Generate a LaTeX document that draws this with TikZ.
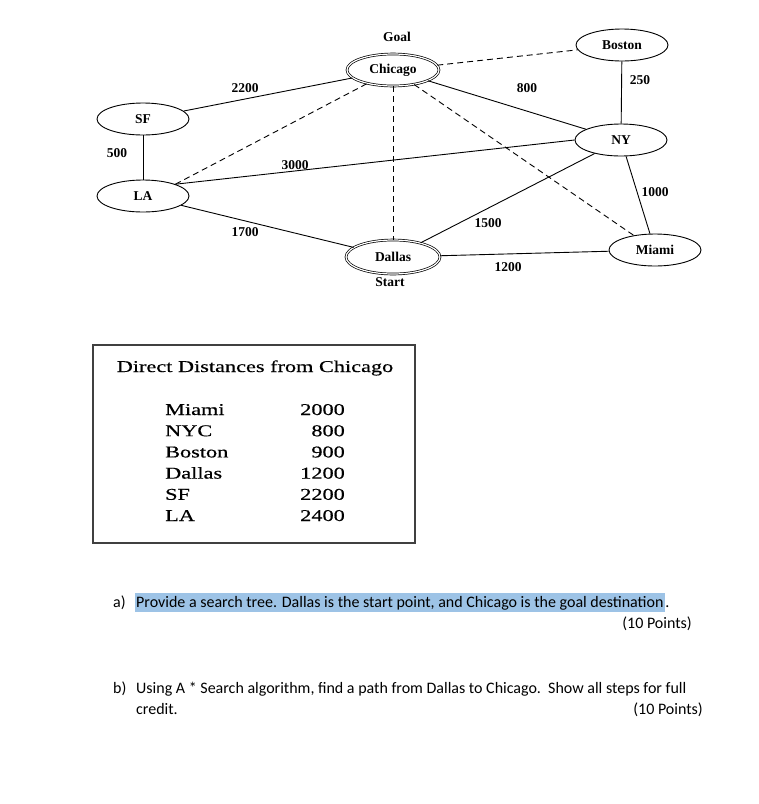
\documentclass[tikz,border=0pt]{standalone}
\usepackage{fontspec}
\setmainfont{Liberation Serif}
\newfontfamily\tabfont[FakeStretch=1.35,FakeBold=0.5]{Liberation Serif}
\newfontfamily\qfont{Carlito}
\usepackage{tikz}
\usetikzlibrary{shapes,positioning}
\definecolor{hilite}{RGB}{157,195,230}
\tikzset{
  city/.style={ellipse, draw, line width=0.9pt, minimum width=92pt, minimum height=32pt, inner sep=0pt, font=\fontsize{13.5}{15}\selectfont\bfseries},
  goalcity/.style={city, double, double distance=1.2pt, line width=0.7pt},
  road/.style={line width=0.9pt},
  guess/.style={line width=0.9pt, dash pattern=on 6pt off 4pt},
  dist/.style={font=\fontsize{13.5}{15}\selectfont\bfseries, inner sep=1pt},
  tabtxt/.style={font=\tabfont\fontsize{16.5}{19}\selectfont, inner sep=0pt},
  qtxt/.style={font=\qfont\fontsize{16}{19}\selectfont, inner sep=0pt}
}
\begin{document}
\begin{tikzpicture}[x=1pt,y=-1pt]
    \useasboundingbox (0,0) rectangle (759,804);
    \node[goalcity] (chi) at (393,70) {Chicago};
    \node[goalcity, minimum width=94pt, minimum height=34pt] (dal) at (393,257) {Dallas};
    \node[city] (sf) at (143,119) {SF};
    \node[city] (la) at (143,196) {LA};
    \node[city] (bos) at (622,45) {Boston};
    \node[city] (ny) at (621,140) {NY};
    \node[city] (mia) at (655,250) {Miami};
    \node[dist] (goal) at (397,37) {Goal};
    \node[dist] (start) at (390,282) {Start};

    \draw[road] (sf) -- (la);
    \draw[road] (sf) -- (chi);
    \draw[road] (la.20) -- (ny.west);
    \draw[road] (la) -- (dal);
    \draw[road] (chi) -- (ny);
    \draw[road] (bos) -- (ny);
    \draw[road] (ny) -- (mia);
    \draw[road] (dal) -- (ny);
    \draw[road] (dal) -- (mia);
    \draw[guess] (la.20) -- (chi);
    \draw[guess] (chi) -- (dal);
    \draw[guess] (chi) -- (bos);
    \draw[guess] (chi) -- (mia);

    \node[dist] (d500) at (117,153) {500};
    \node[dist] (d2200) at (245,88) {2200};
    \node[dist] (d3000) at (295,165) {3000};
    \node[dist] (d1700) at (245,232) {1700};
    \node[dist] (d800) at (527,88) {800};
    \node[dist] (d250) at (640,80) {250};
    \node[dist] (d1000) at (655,192) {1000};
    \node[dist] (d1500) at (488,223) {1500};
    \node[dist] (d1200) at (508,267) {1200};

    \draw[line width=1.5pt, black!75] (93,345) rectangle (415,543);
    \node[tabtxt, anchor=base] (tabhead) at (255,372) {Direct Distances from Chicago};
    \foreach \city/\km [count=\i] in {Miami/2000,NYC/800,Boston/900,Dallas/1200,SF/2200,LA/2400} {
        \node[tabtxt, anchor=base west] (n\i) at (165,{415+21.2*(\i-1)}) {\city};
        \node[tabtxt, anchor=base east] (v\i) at (345,{415+21.2*(\i-1)}) {\km};
    }

    \node[qtxt, anchor=base west] (qa) at (113,607) {a)};
    \node[qtxt, anchor=base west, fill=hilite, inner xsep=1.5pt, text height=14pt, text depth=5pt] (qatext) at (134.5,607) {Provide a search tree. Dallas is the start point, and Chicago is the goal destination};
    \node[qtxt, anchor=base west] (qadot) at (qatext.base east) {.};
    \node[qtxt, anchor=base east] (qapts) at (692,628) {(10 Points)};
    \node[qtxt, anchor=base west] (qb) at (113,693) {b)};
    \node[qtxt, anchor=base west] (qbtext) at (136,693) {Using A * Search algorithm, find a path from Dallas to Chicago.\ \ Show all steps for full};
    \node[qtxt, anchor=base west] (qbtext2) at (136,714) {credit.};
    \node[qtxt, anchor=base east] (qbpts) at (703,714) {(10 Points)};
\end{tikzpicture}
\end{document}
